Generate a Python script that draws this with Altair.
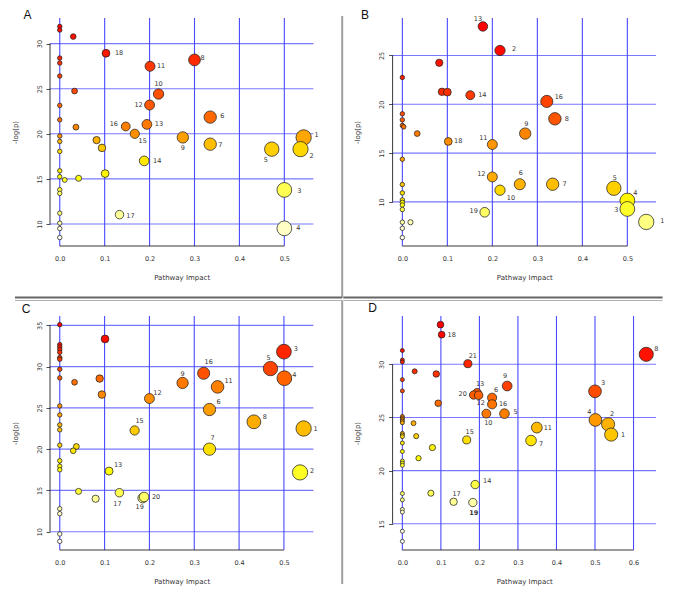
import colorsys
import altair as alt
import pandas as pd

FONT = "DejaVu Sans"
BLUE = "#4a4aff"

# ---------------- Panel A ----------------
a_impact = [0, 0, 0, 0, 0, 0, 0, 0, 0, 0, 0, 0, 0, 0, 0, 0, 0, 0,
            0.030, 0.103, 0.201, 0.300, 0.033, 0.220, 0.200, 0.335, 0.036, 0.147,
            0.194, 0.167, 0.274, 0.543, 0.082, 0.335, 0.094, 0.472, 0.536, 0.188,
            0.101, 0.042, 0.011, 0.500, 0.133, 0.500]
a_logp = [31.9, 31.5, 28.4, 27.85, 26.4, 23.15, 21.55, 19.75, 19.15, 18.05, 15.9, 15.25,
          13.8, 13.4, 11.2, 10.1, 9.5, 8.5,
          30.78, 28.93, 27.48, 28.19, 24.74, 24.41, 23.19, 21.85, 20.74, 20.81,
          21.04, 20.0, 19.6, 19.6, 19.3, 18.85, 18.44, 18.3, 18.3, 17.0,
          15.59, 15.07, 14.89, 13.78, 11.04, 9.52]
a_label = ["", "", "", "", "", "", "", "", "", "", "", "", "", "", "", "", "", "",
           "", "18", "11", "8", "", "10", "12", "6", "", "16",
           "13", "15", "9", "1", "", "7", "", "5", "2", "14",
           "", "", "", "3", "17", "4"]
a_xticks = [0.0, 0.1, 0.2, 0.3, 0.4, 0.5]
a_yticks = [10, 15, 20, 25, 30]

# ---------------- Panel B ----------------
b_impact = [0, 0, 0, 0, 0, 0, 0, 0, 0, 0, 0, 0, 0, 0,
            0.003, 0.179, 0.217, 0.082, 0.088, 0.100, 0.151, 0.321, 0.339, 0.033,
            0.273, 0.102, 0.200, 0.200, 0.261, 0.334, 0.470, 0.217, 0.500, 0.500,
            0.183, 0.018, 0.542]
b_logp = [22.75, 19.02, 18.4, 17.83, 14.37, 11.78, 10.92, 10.2, 9.95, 9.68, 9.22, 7.92, 7.3, 6.35,
          17.69, 27.97, 25.51, 24.25, 21.28, 21.24, 20.93, 20.29, 18.51, 17.0,
          17.0, 16.19, 15.88, 12.56, 11.81, 11.81, 11.40, 11.20, 10.14, 9.28,
          8.94, 7.92, 7.95]
b_label = ["", "", "", "", "", "", "", "", "", "", "", "", "", "",
           "", "13", "2", "", "", "", "14", "16", "8", "",
           "9", "18", "11", "12", "6", "7", "5", "10", "4", "3",
           "19", "", "1"]
b_xticks = [0.0, 0.1, 0.2, 0.3, 0.4, 0.5]
b_yticks = [10, 15, 20, 25]

# ---------------- Panel C ----------------
c_impact = [0, 0, 0, 0, 0, 0, 0, 0, 0, 0, 0, 0, 0, 0, 0, 0, 0, 0, 0, 0, 0,
            0.101, 0.500, 0.470, 0.321, 0.501, 0.089, 0.033, 0.274, 0.352, 0.094,
            0.200, 0.334, 0.433, 0.544, 0.167, 0.037, 0.030, 0.334, 0.536, 0.110,
            0.042, 0.133, 0.080, 0.185, 0.188]
c_logp = [35.08, 32.66, 32.38, 32.06, 31.73, 31.09, 30.89, 29.68, 28.63, 25.24, 24.15,
          22.94, 22.34, 20.48, 18.59, 17.94, 17.50, 12.78, 12.18, 9.72, 8.83,
          33.35, 31.81, 29.76, 29.19, 28.59, 28.55, 28.10, 28.02, 27.54, 26.61,
          26.13, 24.80, 23.31, 22.50, 22.26, 20.32, 19.80, 20.00, 17.18, 17.34,
          14.88, 14.72, 13.99, 14.07, 14.20]
c_label = ["", "", "", "", "", "", "", "", "", "", "", "", "", "", "", "", "", "", "", "", "",
           "", "3", "5", "16", "4", "", "", "9", "11", "",
           "12", "6", "8", "1", "15", "", "", "7", "2", "13",
           "", "17", "", "19", "20"]
c_xticks = [0.0, 0.1, 0.2, 0.3, 0.4, 0.5]
c_yticks = [10, 15, 20, 25, 30, 35]

# ---------------- Panel D ----------------
d_impact = [0, 0, 0, 0, 0, 0, 0, 0, 0, 0, 0, 0, 0, 0, 0, 0, 0, 0, 0, 0, 0, 0, 0, 0,
            0.099, 0.102, 0.633, 0.170, 0.032, 0.088, 0.272, 0.500, 0.194, 0.185,
            0.198, 0.233, 0.233, 0.093, 0.218, 0.265, 0.349, 0.501, 0.534, 0.542,
            0.029, 0.036, 0.167, 0.334, 0.078, 0.042, 0.189, 0.074, 0.133, 0.183]
d_logp = [31.30, 30.40, 30.22, 28.56, 27.50, 25.10, 24.95, 24.80, 24.65, 24.50, 23.50, 23.35,
          23.20, 22.60, 21.80, 20.90, 20.70, 20.50, 17.85, 17.25, 16.35, 16.10, 14.30, 13.35,
          33.73, 32.79, 30.94, 30.06, 29.34, 29.09, 27.96, 27.46, 27.33, 27.11,
          27.09, 26.86, 26.24, 26.34, 25.36, 25.36, 24.05, 24.77, 24.36, 23.39,
          24.46, 23.24, 22.89, 22.83, 22.17, 21.17, 18.69, 17.88, 17.07, 17.00]
d_label = ["", "", "", "", "", "", "", "", "", "", "", "", "", "", "", "", "", "", "", "", "", "", "", "",
           "", "18", "8", "21", "", "", "9", "3", "13", "20",
           "12", "6", "16", "", "10", "5", "11", "4", "2", "1",
           "", "", "15", "7", "", "", "14", "", "17", "19"]
d_xticks = [0.0, 0.1, 0.2, 0.3, 0.4, 0.5, 0.6]
d_yticks = [15, 20, 25, 30]

# label placement (pixel offsets from the circle centre)
a_off = {"18": (13, 0), "11": (11, 0), "8": (8, -2), "10": (0, -10), "12": (-11, 0),
         "6": (12, -1), "16": (-12, -2), "13": (12, 0), "15": (8, 7), "9": (0, 11),
         "1": (13, -2), "7": (10, 1), "5": (-6, 11), "2": (11, 7), "14": (13, 0),
         "3": (15, 1), "17": (11, 1), "4": (14, 0)}
b_off = {"13": (-5, -7), "2": (14, -1), "14": (12, 0), "16": (12, -4), "8": (12, 0),
         "9": (1, -10), "18": (10, 0), "11": (-9, -6), "12": (-11, -3), "6": (1, -11),
         "7": (12, 0), "5": (1, -10), "10": (11, 8), "4": (8, -8), "3": (-11, 1),
         "19": (-11, -1), "1": (16, -1)}
c_off = {"3": (12, -3), "5": (-2, -11), "16": (5, -11), "4": (10, -3), "9": (0, -9),
         "11": (11, -6), "12": (8, -6), "6": (9, -8), "8": (11, -5), "1": (12, 0),
         "15": (5, -9), "7": (3, -11), "2": (12, -1), "13": (9, -6), "17": (-2, 11),
         "19": (-3, 9), "20": (12, 0)}
d_off = {"18": (10, 0), "8": (10, -5), "21": (5, -8), "9": (-2, -10), "3": (8, -8),
         "13": (3, -9), "20": (-11, -1), "12": (2, 8), "6": (4, -8), "16": (11, 0),
         "10": (2, 9), "5": (11, -2), "11": (11, 0), "4": (-6, -8), "2": (4, -10),
         "1": (12, 0), "15": (3, -8), "7": (10, 3), "14": (12, -4), "17": (3, -8),
         "19": (1, 10)}
d_bold = ["19"]


def heat_colors(n):
    """R's heat.colors(n)."""
    j = n // 4
    i = n - j
    cols = []
    for k in range(i):
        h = (1 / 6) * (k / (i - 1)) if i > 1 else 0.0
        cols.append(colorsys.hsv_to_rgb(h, 1.0, 1.0))
    if j > 0:
        s0, s1 = 1 - 1 / (2 * j), 1 / (2 * j)
        for k in range(j):
            s = s0 + (s1 - s0) * (k / (j - 1)) if j > 1 else s0
            cols.append(colorsys.hsv_to_rgb(1 / 6, s, 1.0))
    return ["#%02x%02x%02x" % tuple(int(round(c * 255)) for c in rgb) for rgb in cols]


def ext(v):
    lo, hi = min(v), max(v)
    r = hi - lo
    return [lo - 0.04 * r, hi + 0.04 * r]


ONE = pd.DataFrame({"k": [0]})


def vline(x, y1, y2, color="#999999", w=1.5, op=1):
    return alt.Chart(ONE).mark_rule(color=color, strokeWidth=w, opacity=op).encode(
        x=alt.value(x), y=alt.value(y1), y2=alt.value(y2))


def hline(y, x1, x2, color="#999999", w=1.5, op=1):
    return alt.Chart(ONE).mark_rule(color=color, strokeWidth=w, opacity=op).encode(
        y=alt.value(y), x=alt.value(x1), x2=alt.value(x2))


W = 263.4


def panel(impact, logp, label, offsets, xticks, yticks, H, size_range, letter, lxy, deco,
          bold=()):
    df = pd.DataFrame({"impact": impact, "logp": logp, "label": label})
    pal = heat_colors(len(df))
    ranks = df["logp"].rank(ascending=False, method="first").astype(int) - 1
    df["fillc"] = [pal[r] for r in ranks]

    xs = alt.Scale(domain=ext(impact), nice=False, zero=False)
    ys = alt.Scale(domain=ext(logp), nice=False, zero=False)
    xax = alt.Axis(values=xticks, format=".1f", grid=False, domain=False, ticks=False,
                   tickSize=0, labelPadding=9, labelFontSize=6.5, labelFont=FONT,
                   labelColor="#333333", labelFlush=False, labelOverlap=False,
                   title="Pathway Impact", titleFont=FONT, titleFontSize=7,
                   titleFontWeight="normal", titleColor="#333333", titlePadding=12)
    yax = alt.Axis(values=yticks, format="d", grid=False, domain=False, ticks=True,
                   tickSize=4, tickColor="#222222", tickWidth=0.8, labelAngle=270,
                   labelAlign="center", labelBaseline="bottom", labelPadding=4,
                   labelFontSize=6.5, labelFont=FONT, labelColor="#333333",
                   labelFlush=False, labelOverlap=False,
                   title="-log(p)", titleFont=FONT, titleFontSize=7,
                   titleFontWeight="normal", titleColor="#333333", titlePadding=18)
    X = alt.X("impact:Q", scale=xs, axis=xax)
    Y = alt.Y("logp:Q", scale=ys, axis=yax)

    vgrid = alt.Chart(pd.DataFrame({"impact": xticks})).mark_rule(
        color=BLUE, strokeWidth=1.1).encode(x=X, y=alt.value(0), y2=alt.value(H))
    hgrid = alt.Chart(pd.DataFrame({"logp": yticks})).mark_rule(
        color=BLUE, strokeWidth=1.1, opacity=0.75).encode(y=Y, x=alt.value(0), x2=alt.value(W))
    xline = alt.Chart(pd.DataFrame({"impact": [xticks[0]], "impact2": [xticks[-1]]})).mark_rule(
        color="#222222", strokeWidth=0.9).encode(x=X, x2="impact2", y=alt.value(H))
    yline = alt.Chart(pd.DataFrame({"logp": [yticks[0]], "logp2": [yticks[-1]]})).mark_rule(
        color="#222222", strokeWidth=0.9).encode(y=Y, y2="logp2", x=alt.value(0))

    pts = alt.Chart(df).mark_circle(opacity=1, stroke="#222222", strokeWidth=0.75).encode(
        x=X, y=Y,
        size=alt.Size("impact:Q", scale=alt.Scale(domain=[0, max(impact)], range=size_range),
                      legend=None),
        fill=alt.Fill("fillc:N", scale=None))

    # one text layer per label placement
    groups = {}
    for lab, (dx, dy) in offsets.items():
        key = (dx, dy, lab in bold)
        groups.setdefault(key, []).append(lab)
    lab_layers = []
    for (dx, dy, isbold), labs in groups.items():
        cond = " || ".join("datum.label == '%s'" % l for l in labs)
        lab_layers.append(
            alt.Chart(df).transform_filter(cond).mark_text(
                font=FONT, fontSize=6.5, color="#333333", align="center", baseline="middle",
                dx=dx, dy=dy, fontWeight="bold" if isbold else "normal").encode(
                x=X, y=Y, text="label:N"))

    let = alt.Chart(pd.DataFrame({"t": [letter]})).mark_text(
        font="Liberation Sans", fontSize=12, align="center", baseline="middle",
        color="#111111").encode(x=alt.value(lxy[0]), y=alt.value(lxy[1]), text="t:N")

    return alt.layer(*deco, vgrid, hgrid, xline, yline, pts, *lab_layers, let).properties(
        width=W, height=H)


# panel separators (pixel positions relative to each plot area) and invisible
# anchors that pin the top-left corner of the figure
A_deco = [hline(-9, 0, 10, op=0), vline(-41.3, 0, 10, op=0),
          vline(292.2, -2, 279.5, color="#a0a0a0", w=2),
          hline(279.5, -35, 292.2, color="#666666", w=2)]
B_deco = [hline(279.5, -49.3, 270, color="#666666", w=2)]
C_deco = [vline(-41.3, 0, 10, op=0),
          hline(-15.5, -35, 292.2, color="#b0b0b0", w=1.2),
          vline(292.2, -15.5, 268, color="#a0a0a0", w=2)]
D_deco = [hline(-15.5, -49.3, 270, color="#b0b0b0", w=1.2)]

A = panel(a_impact, a_logp, a_label, a_off, a_xticks, a_yticks, 228, [20, 235], "A",
          (-22.6, -3), A_deco)
B = panel(b_impact, b_logp, b_label, b_off, b_xticks, b_yticks, 228, [20, 235], "B",
          (-27.6, -3), B_deco)
C = panel(c_impact, c_logp, c_label, c_off, c_xticks, c_yticks, 234, [20, 235], "C",
          (-23.8, -6.7), C_deco)
D = panel(d_impact, d_logp, d_label, d_off, d_xticks, d_yticks, 234, [16, 200], "D",
          (-20.1, -7.8), D_deco, bold=d_bold)

chart = alt.concat(A, B, C, D, columns=2, spacing={"row": 70, "column": 78.6},
                   bounds="flush", align="each").resolve_scale(
    x="independent", y="independent", size="independent").properties(
    padding=0, background="white").configure_view(stroke="transparent")

chart.save("out.html", embed_options={"renderer": "svg", "actions": False})
